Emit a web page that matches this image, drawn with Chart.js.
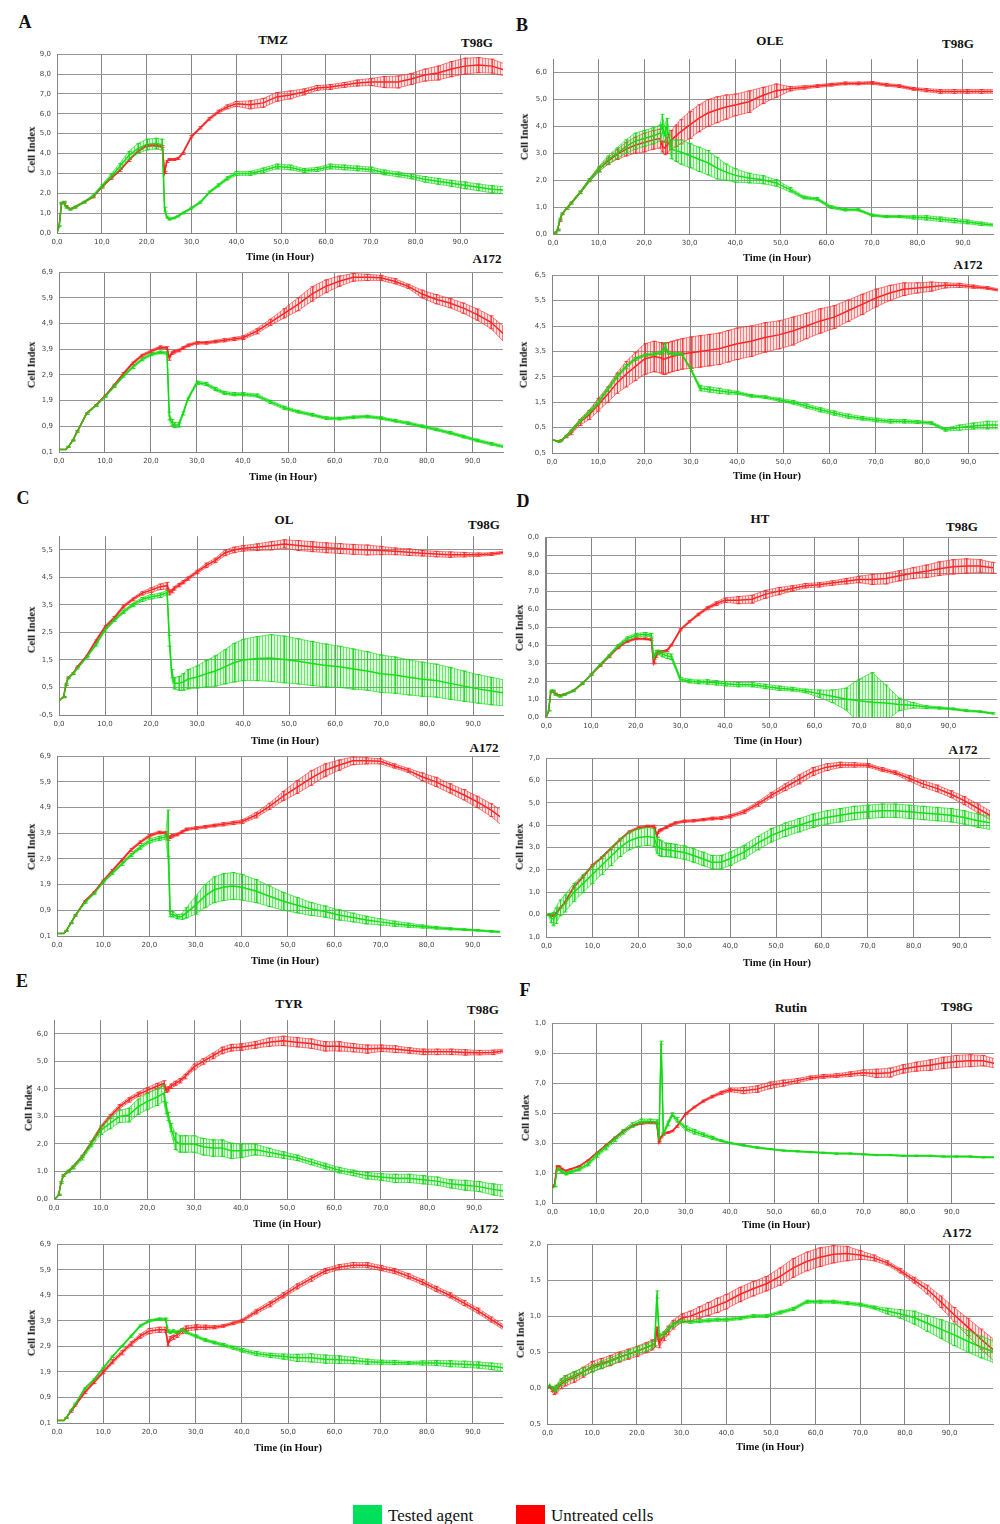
<!DOCTYPE html>
<html><head><meta charset="utf-8">
<script src="https://cdn.jsdelivr.net/npm/chart.js@4.4.0/dist/chart.umd.min.js"></script>
<style>
body{margin:0;background:#fff;width:1000px;height:1524px;position:relative;overflow:hidden;font-family:"Liberation Serif","Times New Roman",serif}
.t{position:absolute;transform:translate(-50%,-50%);white-space:nowrap;font-weight:bold;color:#111;line-height:1}
.r{transform:translate(-50%,-50%) rotate(-90deg)}
canvas{position:absolute}
.lg{position:absolute;font-size:17px;color:#111;line-height:1}
.box{position:absolute;width:29px;height:19px}
</style></head><body>
<script>
// ---------- DATA ----------
const hours = [0,0.5,1,1.5,2, 3,4,6,8,10, 12,14,16,18,20, 22,23.5,24,24.5,25, 26,27,28,30,32, 34,36,38,40,43, 46,49,52,55,58, 61,64,67,70,73, 76,79,82,85,88, 91,94,97,100];
const xTickValues = [0,10,20,30,40,50,60,70,80,90];
const xTickLabels = ['0,0','10,0','20,0','30,0','40,0','50,0','60,0','70,0','80,0','90,0'];

const yTicksTMZ_T98G = ['0,0','1,0','2,0','3,0','4,0','5,0','6,0','7,0','8,0','9,0'];
const yTicksTMZ_A172 = ['0,1','0,9','1,9','2,9','3,9','4,9','5,9','6,9'];
const yTicksOLE_T98G = ['0,0','1,0','2,0','3,0','4,0','5,0','6,0'];
const yTicksOLE_A172 = ['0,5','0,5','1,5','2,5','3,5','4,5','5,5','6,5'];
const yTicksOL_T98G = ['-0,5','0,5','1,5','2,5','3,5','4,5','5,5'];
const yTicksOL_A172 = ['0,1','0,9','1,9','2,9','3,9','4,9','5,9','6,9'];
const yTicksHT_T98G = ['0,0','1,0','2,0','3,0','4,0','5,0','6,0','7,0','8,0','9,0','0,0'];
const yTicksHT_A172 = ['1,0','0,0','1,0','2,0','3,0','4,0','5,0','6,0','7,0'];
const yTicksTYR_T98G = ['0,0','1,0','2,0','3,0','4,0','5,0','6,0'];
const yTicksTYR_A172 = ['0,1','0,9','1,9','2,9','3,9','4,9','5,9','6,9'];
const yTicksRutin_T98G = ['1,0','1,0','3,0','5,0','7,0','9,0','1,0'];
const yTicksRutin_A172 = ['0,5','0,0','0,5','1,0','1,5','2,0'];

// A: TMZ
const tmzT98G_tested = [0,0.35,1.5,1.55,1.3, 1.2,1.3,1.55,1.85,2.35, 2.85,3.35,3.9,4.25,4.45, 4.5,4.45,1.2,0.8,0.7, 0.75,0.85,1.0,1.25,1.55, 2.05,2.4,2.75,3.0,3.0, 3.15,3.35,3.3,3.15,3.2, 3.35,3.3,3.25,3.2,3.05, 2.95,2.85,2.7,2.6,2.5, 2.4,2.3,2.2,2.15];
const tmzT98G_testedErr = [0,0.02,0.05,0.05,0.05, 0.05,0.05,0.05,0.06,0.08, 0.1,0.15,0.2,0.25,0.27, 0.27,0.27,0.1,0.05,0.05, 0.04,0.04,0.04,0.05,0.05, 0.06,0.07,0.08,0.1,0.1, 0.12,0.12,0.12,0.1,0.1, 0.12,0.12,0.12,0.12,0.12, 0.12,0.12,0.14,0.15,0.15, 0.17,0.17,0.18,0.18];
const tmzT98G_untreated = [0,0.4,1.5,1.55,1.35, 1.2,1.3,1.55,1.8,2.3, 2.75,3.15,3.65,4.1,4.4, 4.4,4.35,3.05,3.6,3.7, 3.7,3.75,4.0,4.85,5.3, 5.75,6.1,6.35,6.5,6.45, 6.55,6.85,6.95,7.1,7.3, 7.35,7.45,7.55,7.6,7.6, 7.6,7.75,7.95,8.05,8.25, 8.4,8.45,8.4,8.2];
const tmzT98G_untreatedErr = [0,0,0.03,0.03,0.03, 0.03,0.03,0.03,0.03,0.04, 0.05,0.05,0.05,0.05,0.05, 0.05,0.05,0.05,0.05,0.05, 0.05,0.05,0.05,0.06,0.06, 0.07,0.08,0.1,0.12,0.2, 0.22,0.22,0.2,0.15,0.12, 0.12,0.12,0.15,0.18,0.28, 0.3,0.28,0.3,0.35,0.38, 0.4,0.38,0.35,0.3];
const tmzA172_tested = [0,0,0,0,0.1, 0.35,0.7,1.4,1.7,2.05, 2.45,2.85,3.2,3.5,3.7, 3.78,3.75,1.3,1.05,0.95, 0.95,1.4,1.95,2.6,2.55, 2.35,2.2,2.15,2.15,2.1, 1.85,1.62,1.47,1.35,1.22, 1.2,1.25,1.28,1.22,1.12, 1.02,0.9,0.78,0.65,0.5, 0.35,0.22,0.1,0.05];
const tmzA172_testedErr = [0,0,0,0,0.02, 0.02,0.03,0.03,0.03,0.03, 0.04,0.04,0.05,0.05,0.05, 0.05,0.05,0.15,0.12,0.1, 0.08,0.06,0.05,0.06,0.06, 0.06,0.06,0.06,0.06,0.06, 0.06,0.06,0.05,0.05,0.05, 0.05,0.05,0.05,0.05,0.05, 0.05,0.05,0.05,0.05,0.05, 0.05,0.05,0.05,0.05];
const tmzA172_untreated = [0,0,0,0,0.1, 0.35,0.7,1.4,1.72,2.08, 2.5,2.95,3.35,3.65,3.82, 3.98,3.95,3.55,3.75,3.8, 3.85,3.95,4.05,4.15,4.15, 4.2,4.25,4.3,4.35,4.6, 4.95,5.3,5.65,6.05,6.35, 6.55,6.7,6.7,6.68,6.55, 6.35,6.05,5.85,5.7,5.5, 5.25,4.95,4.45,4.2];
const tmzA172_untreatedErr = [0,0,0,0,0.02, 0.02,0.03,0.03,0.03,0.03, 0.04,0.04,0.05,0.05,0.05, 0.05,0.05,0.08,0.05,0.05, 0.05,0.05,0.05,0.05,0.05, 0.05,0.06,0.06,0.07,0.1, 0.12,0.18,0.25,0.28,0.25, 0.2,0.15,0.12,0.1,0.1, 0.08,0.15,0.18,0.18,0.2, 0.22,0.25,0.3,0.3];

// B: OLE
const oleT98G_tested = [0,0.05,0.15,0.55,0.75, 0.95,1.15,1.55,2.0,2.4, 2.75,3.0,3.25,3.45,3.55, 3.65,3.75,4.1,3.7,4.0, 3.15,3.1,3.05,2.92,2.78, 2.65,2.45,2.3,2.18,2.08, 2.02,1.9,1.65,1.36,1.3, 1.0,0.9,0.9,0.7,0.65, 0.65,0.62,0.6,0.55,0.5, 0.45,0.38,0.33,0.3];
const oleT98G_testedErr = [0,0.02,0.03,0.03,0.03, 0.03,0.04,0.05,0.06,0.1, 0.15,0.2,0.25,0.3,0.3, 0.3,0.3,0.35,0.3,0.3, 0.35,0.4,0.45,0.45,0.45, 0.45,0.4,0.3,0.25,0.18, 0.15,0.12,0.08,0.05,0.05, 0.05,0.04,0.04,0.04,0.04, 0.04,0.06,0.08,0.08,0.08, 0.07,0.06,0.05,0.05];
const oleT98G_untreated = [0,0.05,0.15,0.5,0.75, 0.95,1.15,1.55,2.0,2.4, 2.7,2.95,3.15,3.3,3.4, 3.5,3.55,3.25,3.2,3.3, 3.5,3.65,3.8,4.05,4.3, 4.5,4.62,4.72,4.8,4.92, 5.15,5.33,5.4,5.45,5.5, 5.55,5.6,5.6,5.62,5.55, 5.5,5.4,5.35,5.3,5.3, 5.3,5.3,5.3,5.3];
const oleT98G_untreatedErr = [0,0.02,0.03,0.03,0.03, 0.03,0.03,0.04,0.05,0.08, 0.12,0.18,0.25,0.3,0.35, 0.35,0.35,0.2,0.25,0.3, 0.35,0.4,0.45,0.5,0.5, 0.5,0.48,0.45,0.4,0.4, 0.3,0.25,0.08,0.06,0.05, 0.05,0.05,0.05,0.05,0.05, 0.05,0.05,0.06,0.07,0.07, 0.07,0.07,0.07,0.07];
const oleA172_tested = [0,0,-0.03,-0.05,0, 0.15,0.35,0.75,1.1,1.5, 2.0,2.5,2.9,3.2,3.35, 3.4,3.45,3.5,3.7,3.45, 3.4,3.4,3.4,2.8,2.05, 2.0,1.95,1.9,1.87,1.75, 1.7,1.6,1.5,1.35,1.2, 1.07,0.95,0.87,0.8,0.75, 0.75,0.72,0.68,0.42,0.5, 0.56,0.6,0.6,0.6];
const oleA172_testedErr = [0,0,0.02,0.02,0.02, 0.03,0.05,0.06,0.07,0.08, 0.08,0.08,0.08,0.06,0.05, 0.05,0.06,0.1,0.15,0.06, 0.05,0.05,0.05,0.05,0.1, 0.1,0.1,0.08,0.06,0.05, 0.05,0.06,0.07,0.08,0.08, 0.08,0.08,0.07,0.07,0.07, 0.07,0.06,0.05,0.06,0.1, 0.12,0.15,0.15,0.15];
const oleA172_untreated = [0,0,-0.03,-0.05,0, 0.15,0.3,0.7,1.0,1.4, 1.8,2.25,2.6,2.9,3.2, 3.3,3.25,3.2,3.2,3.25, 3.3,3.35,3.4,3.45,3.5, 3.55,3.6,3.7,3.8,3.9, 4.05,4.15,4.3,4.5,4.7, 4.85,5.1,5.35,5.6,5.8, 5.95,6.0,6.05,6.1,6.1, 6.05,6.0,5.9,5.85];
const oleA172_untreatedErr = [0,0,0.02,0.02,0.03, 0.05,0.08,0.12,0.18,0.25, 0.3,0.4,0.5,0.55,0.6, 0.6,0.6,0.6,0.6,0.6, 0.6,0.6,0.6,0.62,0.62, 0.62,0.62,0.62,0.62,0.6, 0.58,0.55,0.55,0.5,0.48, 0.45,0.42,0.4,0.35,0.3, 0.25,0.2,0.18,0.1,0.08, 0.06,0.05,0.05,0.05];

// C: OL
const olT98G_tested = [0,0.1,0.15,0.6,0.85, 1.0,1.2,1.6,2.05,2.6, 2.95,3.25,3.5,3.7,3.8, 3.85,3.95,2.2,1.0,0.65, 0.65,0.7,0.8,0.88,1.0, 1.1,1.25,1.4,1.5,1.55, 1.57,1.52,1.45,1.37,1.3, 1.25,1.17,1.1,1.0,0.95, 0.87,0.8,0.75,0.65,0.55, 0.45,0.37,0.3,0.25];
const olT98G_testedErr = [0,0,0.02,0.03,0.03, 0.03,0.03,0.03,0.04,0.05, 0.05,0.06,0.06,0.07,0.08, 0.08,0.08,0.2,0.15,0.2, 0.25,0.3,0.35,0.4,0.48, 0.55,0.62,0.7,0.75,0.8, 0.85,0.85,0.82,0.8,0.78, 0.75,0.73,0.7,0.68,0.66, 0.64,0.62,0.6,0.58,0.55, 0.52,0.5,0.47,0.45];
const olT98G_untreated = [0,0.1,0.15,0.6,0.85, 1.0,1.25,1.65,2.19,2.7, 3.03,3.44,3.7,3.92,4.04, 4.16,4.2,3.95,4.0,4.1, 4.22,4.33,4.46,4.7,4.94, 5.12,5.39,5.5,5.56,5.6, 5.65,5.72,5.66,5.62,5.58, 5.55,5.52,5.5,5.48,5.45, 5.42,5.38,5.35,5.33,5.33, 5.33,5.35,5.42,5.42];
const olT98G_untreatedErr = [0,0,0.02,0.03,0.03, 0.03,0.03,0.03,0.04,0.05, 0.05,0.05,0.05,0.06,0.08, 0.1,0.12,0.08,0.06,0.06, 0.06,0.06,0.06,0.06,0.08, 0.08,0.1,0.1,0.1,0.12, 0.15,0.15,0.18,0.18,0.18, 0.18,0.18,0.18,0.15,0.12, 0.12,0.1,0.1,0.1,0.08, 0.06,0.05,0.05,0.05];
const olA172_tested = [0,0,0,0,0.1, 0.4,0.7,1.2,1.55,2.0, 2.35,2.7,3.05,3.35,3.6, 3.7,3.75,3.9,0.75,0.75, 0.65,0.65,0.8,1.1,1.45, 1.7,1.8,1.85,1.8,1.65, 1.45,1.25,1.1,0.95,0.85, 0.72,0.62,0.52,0.45,0.38, 0.32,0.27,0.22,0.18,0.15, 0.12,0.08,0.05,0.05];
const olA172_testedErr = [0,0,0,0,0.02, 0.02,0.03,0.03,0.03,0.04, 0.05,0.05,0.06,0.07,0.08, 0.08,0.08,0.9,0.1,0.1, 0.08,0.1,0.2,0.35,0.45, 0.5,0.52,0.52,0.5,0.45, 0.4,0.35,0.3,0.25,0.22, 0.2,0.17,0.15,0.12,0.1, 0.08,0.06,0.05,0.04,0.03, 0.03,0.03,0.03,0.03];
const olA172_untreated = [0,0,0,0,0.1, 0.4,0.7,1.25,1.6,2.05, 2.45,2.85,3.25,3.55,3.8, 3.93,3.92,3.7,3.75,3.8, 3.85,3.95,4.05,4.1,4.15, 4.2,4.25,4.3,4.35,4.6, 4.95,5.35,5.7,6.05,6.35, 6.55,6.72,6.72,6.7,6.52, 6.35,6.1,5.9,5.65,5.4, 5.12,4.8,4.4,4.2];
const olA172_untreatedErr = [0,0,0,0,0.02, 0.02,0.03,0.03,0.03,0.03, 0.04,0.04,0.05,0.05,0.05, 0.05,0.05,0.08,0.05,0.05, 0.05,0.05,0.05,0.05,0.05, 0.05,0.06,0.06,0.07,0.1, 0.12,0.18,0.25,0.28,0.25, 0.2,0.15,0.12,0.1,0.08, 0.08,0.15,0.18,0.18,0.2, 0.22,0.25,0.3,0.3];

// D: HT
const htT98G_tested = [0,0.35,1.45,1.45,1.25, 1.15,1.25,1.45,1.85,2.35, 2.9,3.4,3.95,4.35,4.55, 4.6,4.55,3.3,3.6,3.6, 3.5,3.4,3.35,2.1,2.0, 1.95,1.95,1.9,1.85,1.8, 1.8,1.7,1.6,1.55,1.45, 1.3,1.15,1.0,0.9,0.82, 0.78,0.7,0.65,0.55,0.5, 0.45,0.35,0.3,0.2];
const htT98G_testedErr = [0,0.02,0.05,0.05,0.05, 0.05,0.05,0.05,0.05,0.05, 0.06,0.07,0.08,0.1,0.1, 0.1,0.1,0.1,0.1,0.12, 0.15,0.15,0.15,0.1,0.1, 0.1,0.12,0.12,0.12,0.12, 0.12,0.12,0.12,0.1,0.1, 0.2,0.35,0.6,1.2,1.65, 1.0,0.35,0.15,0.08,0.06, 0.05,0.05,0.04,0.04];
const htT98G_untreated = [0,0.3,1.4,1.45,1.3, 1.2,1.25,1.45,1.85,2.35, 2.85,3.35,3.85,4.2,4.35, 4.35,4.3,3.0,3.35,3.6, 3.65,3.7,4.0,4.85,5.3, 5.7,6.05,6.3,6.5,6.5, 6.55,6.82,7.0,7.15,7.3, 7.35,7.45,7.55,7.65,7.65, 7.7,7.85,8.0,8.1,8.25, 8.35,8.4,8.4,8.3];
const htT98G_untreatedErr = [0,0,0.03,0.03,0.03, 0.03,0.03,0.03,0.03,0.04, 0.05,0.05,0.05,0.05,0.05, 0.05,0.05,0.05,0.05,0.05, 0.05,0.05,0.05,0.06,0.06, 0.07,0.08,0.1,0.12,0.2, 0.22,0.22,0.2,0.15,0.12, 0.12,0.12,0.15,0.18,0.28, 0.3,0.28,0.3,0.35,0.38, 0.4,0.4,0.35,0.3];
const htA172_tested = [0,0,-0.15,-0.2,-0.05, 0.3,0.5,1.0,1.4,1.8, 2.2,2.6,3.0,3.3,3.45, 3.5,3.45,3.1,3.0,2.95, 2.9,2.88,2.85,2.78,2.65, 2.5,2.35,2.35,2.5,2.8, 3.2,3.55,3.8,4.0,4.2, 4.35,4.45,4.55,4.6,4.65, 4.65,4.6,4.55,4.5,4.45, 4.35,4.2,4.1,4.0];
const htA172_testedErr = [0,0.05,0.2,0.3,0.35, 0.35,0.38,0.4,0.4,0.4, 0.4,0.4,0.4,0.4,0.4, 0.4,0.4,0.35,0.35,0.35, 0.3,0.3,0.3,0.3,0.3, 0.3,0.3,0.3,0.3,0.3, 0.3,0.3,0.3,0.3,0.3, 0.3,0.3,0.3,0.3,0.3, 0.3,0.3,0.3,0.3,0.3, 0.3,0.3,0.3,0.3];
const htA172_untreated = [0,0,-0.05,-0.05,0.05, 0.3,0.55,1.25,1.7,2.2, 2.55,2.95,3.35,3.7,3.88, 3.95,3.95,3.55,3.75,3.8, 3.9,4.0,4.1,4.18,4.2, 4.25,4.3,4.32,4.4,4.6, 4.95,5.35,5.7,6.05,6.4, 6.6,6.7,6.7,6.68,6.5, 6.35,6.1,5.85,5.65,5.4, 5.1,4.75,4.4,4.2];
const htA172_untreatedErr = [0,0,0.02,0.02,0.03, 0.03,0.04,0.05,0.05,0.05, 0.05,0.05,0.05,0.05,0.05, 0.05,0.05,0.08,0.05,0.05, 0.05,0.05,0.05,0.05,0.05, 0.05,0.06,0.06,0.07,0.08, 0.1,0.12,0.15,0.2,0.18, 0.15,0.12,0.1,0.08,0.08, 0.08,0.12,0.15,0.15,0.15, 0.18,0.2,0.2,0.2];

// E: TYR
const tyrT98G_tested = [0,0.05,0.15,0.6,0.85, 1.0,1.15,1.5,2.0,2.5, 2.75,3.0,3.05,3.35,3.55, 3.7,3.85,3.3,3.0,2.6, 2.1,2.0,2.0,2.0,1.9, 1.85,1.85,1.75,1.75,1.8, 1.7,1.6,1.5,1.35,1.2, 1.05,0.95,0.85,0.8,0.75, 0.75,0.7,0.65,0.55,0.5, 0.45,0.35,0.28,0.25];
const tyrT98G_testedErr = [0,0,0.02,0.03,0.03, 0.05,0.06,0.08,0.1,0.15, 0.2,0.22,0.25,0.28,0.3, 0.3,0.3,0.2,0.15,0.15, 0.3,0.3,0.3,0.3,0.3, 0.3,0.3,0.28,0.25,0.2, 0.15,0.12,0.1,0.1,0.1, 0.1,0.1,0.12,0.12,0.15, 0.15,0.15,0.15,0.15,0.18, 0.18,0.2,0.22,0.22];
const tyrT98G_untreated = [0,0.05,0.15,0.6,0.85, 1.0,1.15,1.55,2.05,2.6, 3.0,3.35,3.6,3.8,3.95, 4.1,4.2,3.95,4.0,4.1, 4.2,4.3,4.45,4.8,5.0, 5.2,5.4,5.5,5.52,5.6, 5.7,5.75,5.7,5.65,5.55, 5.55,5.5,5.45,5.48,5.45, 5.4,5.35,5.35,5.35,5.33, 5.32,5.33,5.4,5.4];
const tyrT98G_untreatedErr = [0,0,0.02,0.03,0.03, 0.03,0.03,0.04,0.05,0.06, 0.07,0.08,0.08,0.08,0.1, 0.1,0.1,0.08,0.08,0.08, 0.08,0.08,0.08,0.1,0.1, 0.1,0.12,0.12,0.12,0.12, 0.15,0.17,0.17,0.17,0.17, 0.17,0.15,0.15,0.12,0.12, 0.1,0.1,0.1,0.1,0.1, 0.08,0.08,0.06,0.06];
const tyrA172_tested = [0,0,0,0,0.1, 0.4,0.65,1.25,1.6,2.05, 2.5,2.9,3.3,3.7,3.9, 3.97,3.97,3.5,3.45,3.5, 3.45,3.55,3.45,3.3,3.15, 3.05,2.95,2.85,2.75,2.62, 2.55,2.5,2.45,2.45,2.4, 2.38,2.35,2.3,2.28,2.27, 2.25,2.25,2.25,2.22,2.2, 2.17,2.12,2.05,2.0];
const tyrA172_testedErr = [0,0,0,0,0.02, 0.02,0.03,0.03,0.03,0.03, 0.03,0.03,0.04,0.04,0.04, 0.04,0.04,0.05,0.05,0.05, 0.05,0.05,0.05,0.05,0.05, 0.05,0.06,0.06,0.07,0.08, 0.08,0.1,0.14,0.16,0.16, 0.15,0.13,0.1,0.08,0.08, 0.06,0.08,0.1,0.12,0.12, 0.12,0.13,0.15,0.15];
const tyrA172_untreated = [0,0,0,0,0.1, 0.35,0.6,1.1,1.5,1.9, 2.3,2.65,3.0,3.3,3.5, 3.55,3.55,3.0,3.2,3.25, 3.35,3.5,3.6,3.65,3.65, 3.65,3.7,3.8,3.9,4.25, 4.55,4.9,5.25,5.55,5.85, 6.0,6.08,6.08,5.97,5.85, 5.65,5.42,5.15,4.9,4.6, 4.3,3.95,3.6,3.35];
const tyrA172_untreatedErr = [0,0,0,0,0.02, 0.03,0.04,0.05,0.06,0.07, 0.08,0.08,0.08,0.08,0.1, 0.1,0.1,0.08,0.08,0.08, 0.1,0.1,0.1,0.1,0.08, 0.06,0.05,0.05,0.06,0.08, 0.1,0.1,0.1,0.1,0.1, 0.1,0.1,0.1,0.1,0.1, 0.1,0.1,0.1,0.1,0.1, 0.1,0.1,0.1,0.1];

// F: Rutin
const rutinT98G_tested = [0,0.1,1.2,1.3,1.1, 0.95,1.05,1.25,1.6,2.2, 2.7,3.25,3.75,4.2,4.45, 4.45,4.4,3.3,9.7,3.6, 4.3,4.9,4.55,4.0,3.75, 3.55,3.35,3.15,3.0,2.85, 2.7,2.6,2.5,2.45,2.4, 2.35,2.3,2.3,2.25,2.2, 2.2,2.15,2.15,2.15,2.1, 2.1,2.1,2.05,2.05];
const rutinT98G_testedErr = [0,0.02,0.05,0.08,0.08, 0.08,0.08,0.1,0.12,0.15, 0.15,0.15,0.15,0.15,0.15, 0.15,0.15,0.1,0.1,0.1, 0.15,0.12,0.15,0.15,0.15, 0.12,0.1,0.06,0.05,0.05, 0.05,0.04,0.04,0.04,0.04, 0.04,0.04,0.04,0.04,0.04, 0.04,0.04,0.04,0.04,0.04, 0.04,0.04,0.04,0.04];
const rutinT98G_untreated = [0,0.3,1.45,1.45,1.3, 1.15,1.25,1.45,1.85,2.35, 2.85,3.35,3.8,4.15,4.3, 4.35,4.35,3.05,3.4,3.6, 3.7,3.8,4.1,4.95,5.4, 5.8,6.1,6.35,6.55,6.5, 6.6,6.85,7.0,7.15,7.35, 7.45,7.5,7.6,7.7,7.65, 7.7,7.95,8.1,8.2,8.35, 8.45,8.5,8.5,8.3];
const rutinT98G_untreatedErr = [0,0,0.03,0.03,0.03, 0.03,0.03,0.03,0.03,0.04, 0.05,0.05,0.05,0.05,0.05, 0.05,0.05,0.05,0.05,0.05, 0.05,0.05,0.05,0.06,0.06, 0.07,0.08,0.1,0.12,0.2, 0.22,0.22,0.2,0.15,0.12, 0.12,0.12,0.15,0.18,0.28, 0.3,0.28,0.3,0.35,0.38, 0.4,0.4,0.35,0.3];
const rutinA172_tested = [0,0.05,0.0,-0.02,0.0, 0.08,0.12,0.18,0.23,0.27, 0.32,0.37,0.42,0.47,0.52, 0.56,0.6,0.62,1.3,0.72, 0.75,0.82,0.88,0.93,0.92, 0.93,0.94,0.95,0.95,0.97, 1.0,1.0,1.05,1.1,1.2, 1.2,1.2,1.18,1.16,1.12, 1.07,1.03,0.98,0.9,0.82, 0.74,0.65,0.57,0.5];
const rutinA172_testedErr = [0,0,0.02,0.03,0.04, 0.05,0.05,0.05,0.05,0.05, 0.05,0.05,0.05,0.05,0.05, 0.05,0.05,0.03,0.05,0.03, 0.03,0.03,0.03,0.02,0.02, 0.02,0.02,0.02,0.02,0.02, 0.02,0.02,0.02,0.02,0.02, 0.02,0.02,0.02,0.02,0.02, 0.04,0.06,0.09,0.11,0.13, 0.15,0.15,0.15,0.15];
const rutinA172_untreated = [0,0.02,-0.02,-0.05,-0.02, 0.05,0.1,0.15,0.22,0.3, 0.34,0.38,0.43,0.47,0.51, 0.56,0.6,0.62,0.8,0.62, 0.72,0.8,0.88,0.97,1.0, 1.05,1.1,1.15,1.2,1.3, 1.38,1.45,1.55,1.67,1.76, 1.82,1.86,1.87,1.85,1.81, 1.74,1.63,1.5,1.37,1.2, 1.02,0.85,0.68,0.52];
const rutinA172_untreatedErr = [0,0,0.03,0.04,0.05, 0.06,0.07,0.07,0.07,0.07, 0.07,0.07,0.07,0.07,0.07, 0.07,0.07,0.05,0.05,0.06, 0.06,0.06,0.06,0.06,0.07, 0.08,0.09,0.1,0.1,0.1, 0.1,0.1,0.12,0.13,0.13, 0.13,0.12,0.1,0.06,0.04, 0.03,0.03,0.04,0.06,0.08, 0.1,0.12,0.14,0.15];

// ---------- LAYOUT ----------
const charts = [
 {l:57,t:52,r:503,b:233, xMin:0,xMax:99.5, yMin:0,yStep:1,yMax:9, yLabels:yTicksTMZ_T98G, g:tmzT98G_tested,gE:tmzT98G_testedErr,u:tmzT98G_untreated,uE:tmzT98G_untreatedErr, tx:280,ty:257, cx:32,cy:150},
 {l:59,t:270,r:503,b:452, xMin:0,xMax:96.6, yMin:-0.1,yStep:1,yMax:6.9, yLabels:yTicksTMZ_A172, g:tmzA172_tested,gE:tmzA172_testedErr,u:tmzA172_untreated,uE:tmzA172_untreatedErr, tx:283,ty:477, cx:32,cy:365},
 {l:553,t:57,r:993,b:234, xMin:0,xMax:96.6, yMin:0,yStep:1,yMax:6.5, yLabels:yTicksOLE_T98G, g:oleT98G_tested,gE:oleT98G_testedErr,u:oleT98G_untreated,uE:oleT98G_untreatedErr, tx:777,ty:258, cx:525,cy:137},
 {l:552,t:273,r:998,b:453, xMin:0,xMax:96.4, yMin:-0.5,yStep:1,yMax:6.5, yLabels:yTicksOLE_A172, g:oleA172_tested,gE:oleA172_testedErr,u:oleA172_untreated,uE:oleA172_untreatedErr, tx:767,ty:476, cx:524,cy:365},
 {l:59,t:534,r:503,b:715, xMin:0,xMax:96.5, yMin:-0.5,yStep:1,yMax:6.0, yLabels:yTicksOL_T98G, g:olT98G_tested,gE:olT98G_testedErr,u:olT98G_untreated,uE:olT98G_untreatedErr, tx:285,ty:741, cx:32,cy:630},
 {l:57,t:754,r:500,b:936, xMin:0,xMax:95.9, yMin:-0.1,yStep:1,yMax:6.9, yLabels:yTicksOL_A172, g:olA172_tested,gE:olA172_testedErr,u:olA172_untreated,uE:olA172_untreatedErr, tx:285,ty:961, cx:32,cy:847},
 {l:545,t:535,r:997,b:717, xMin:-0.3,xMax:100.9, yMin:0,yStep:1,yMax:10, yLabels:yTicksHT_T98G, g:htT98G_tested,gE:htT98G_testedErr,u:htT98G_untreated,uE:htT98G_untreatedErr, tx:768,ty:741, cx:520,cy:628},
 {l:546,t:756,r:990,b:937, xMin:-0.1,xMax:96.6, yMin:-1,yStep:1,yMax:7, yLabels:yTicksHT_A172, g:htA172_tested,gE:htA172_testedErr,u:htA172_untreated,uE:htA172_untreatedErr, tx:777,ty:963, cx:520,cy:847},
 {l:54,t:1018,r:503,b:1199, xMin:0,xMax:96.2, yMin:0,yStep:1,yMax:6.5, yLabels:yTicksTYR_T98G, g:tyrT98G_tested,gE:tyrT98G_testedErr,u:tyrT98G_untreated,uE:tyrT98G_untreatedErr, tx:287,ty:1224, cx:29,cy:1108},
 {l:57,t:1242,r:503,b:1423, xMin:0,xMax:96.5, yMin:-0.1,yStep:1,yMax:6.9, yLabels:yTicksTYR_A172, g:tyrA172_tested,gE:tyrA172_testedErr,u:tyrA172_untreated,uE:tyrA172_untreatedErr, tx:288,ty:1448, cx:32,cy:1333},
 {l:552,t:1021,r:994,b:1203, xMin:-0.1,xMax:99.5, yMin:-1,yStep:2,yMax:11, yLabels:yTicksRutin_T98G, g:rutinT98G_tested,gE:rutinT98G_testedErr,u:rutinT98G_untreated,uE:rutinT98G_untreatedErr, tx:776,ty:1225, cx:526,cy:1118},
 {l:547,t:1242,r:993,b:1424, xMin:-0.1,xMax:99.7, yMin:-0.5,yStep:0.5,yMax:2.0, yLabels:yTicksRutin_A172, g:rutinA172_tested,gE:rutinA172_testedErr,u:rutinA172_untreated,uE:rutinA172_untreatedErr, tx:770,ty:1447, cx:521,cy:1335}
];

const texts = [
 ['A',25,22,18],['B',522,25,18],['C',23,498,18],['D',523,501,18],['E',22,981,18],['F',525,990,18],
 ['TMZ',273,39,13],['OLE',770,40,13],['OL',284,519,13],['HT',760,518,13],['TYR',289,1003,13],['Rutin',791,1007,13],
 ['T98G',477,42,13],['T98G',958,43,13],['T98G',484,524,13],['T98G',962,526,13],['T98G',483,1009,13],['T98G',957,1006,13],
 ['A172',487,258,13],['A172',968,264,13],['A172',484,747,13],['A172',963,749,13],['A172',484,1228,13],['A172',957,1232,13]
];

function addText(s, x, y, size, cls) {
  const d = document.createElement('div');
  d.className = 't' + (cls ? ' ' + cls : '');
  d.textContent = s;
  d.style.left = x + 'px'; d.style.top = y + 'px'; d.style.fontSize = size + 'px';
  document.body.appendChild(d);
}
texts.forEach(t => addText(t[0], t[1], t[2], t[3]));

// striped fill imitating the dense SD whiskers of the original
function stripePattern(rgb) {
  const c = document.createElement('canvas'); c.width = 3; c.height = 1;
  const x = c.getContext('2d');
  x.fillStyle = 'rgba(' + rgb + ',0.16)'; x.fillRect(0, 0, 3, 1);
  x.fillStyle = 'rgba(' + rgb + ',0.6)'; x.fillRect(0, 0, 1, 1);
  return x.createPattern(c, 'repeat');
}

const GREEN = '#11e011', RED = '#ff1a1a';
const GREEN_ERR = 'rgba(20,215,20,0.9)', RED_ERR = 'rgba(245,40,40,0.85)';
const GREEN_BAND = stripePattern('30,220,30'), RED_BAND = stripePattern('250,60,60');

const errorBars = {
  id: 'errorBars',
  beforeDatasetDraw(chart, args) {
    const ds = chart.data.datasets[args.index];
    if (!ds.errors) return;
    const {ctx, chartArea: a, scales: {x, y}} = chart;
    ctx.save();
    ctx.beginPath(); ctx.rect(a.left, a.top, a.right - a.left, a.bottom - a.top); ctx.clip();
    ctx.strokeStyle = ds.errColor; ctx.lineWidth = 1;
    ctx.beginPath();
    ds.data.forEach((p, i) => {
      const e = ds.errors[i];
      if (!e) return;
      const px = Math.round(x.getPixelForValue(p.x)) + 0.5;
      const y1 = y.getPixelForValue(p.y + e), y2 = y.getPixelForValue(p.y - e);
      ctx.moveTo(px, y1); ctx.lineTo(px, y2);
      ctx.moveTo(px - 2, y1); ctx.lineTo(px + 2, y1);
      ctx.moveTo(px - 2, y2); ctx.lineTo(px + 2, y2);
    });
    ctx.stroke();
    ctx.restore();
  }
};

Chart.defaults.font.family = '"DejaVu Sans", Verdana, sans-serif';

const YW = 40, XH = 20, PT = 8, PR = 2;
charts.forEach(c => {
  const cv = document.createElement('canvas');
  const w = c.r - c.l + YW + PR, h = c.b - c.t + PT + XH;
  cv.width = w; cv.height = h;
  cv.style.left = (c.l - YW) + 'px'; cv.style.top = (c.t - PT) + 'px';
  cv.style.width = w + 'px'; cv.style.height = h + 'px';
  document.body.appendChild(cv);

  const pts = (vals) => hours.map((hr, i) => ({x: hr, y: vals[i]}));
  const shift = (vals, errs, sgn) => hours.map((hr, i) => ({x: hr, y: vals[i] + sgn * errs[i]}));
  const band = (label, data, fill, color, edge) => ({label, data, fill, backgroundColor: color, borderColor: edge, borderWidth: 0.7, pointRadius: 0, tension: 0});

  new Chart(cv, {
    type: 'line',
    data: {
      datasets: [
        band('Tested agent −SD', shift(c.g, c.gE, -1), false, GREEN_BAND, GREEN_ERR),
        band('Tested agent +SD', shift(c.g, c.gE, 1), '-1', GREEN_BAND, GREEN_ERR),
        band('Untreated cells −SD', shift(c.u, c.uE, -1), false, RED_BAND, RED_ERR),
        band('Untreated cells +SD', shift(c.u, c.uE, 1), '-1', RED_BAND, RED_ERR),
        {label: 'Tested agent', data: pts(c.g), errors: c.gE, errColor: GREEN_ERR, borderColor: GREEN, borderWidth: 1.5, pointRadius: 0, fill: false, tension: 0},
        {label: 'Untreated cells', data: pts(c.u), errors: c.uE, errColor: RED_ERR, borderColor: RED, borderWidth: 1.5, pointRadius: 0, fill: false, tension: 0}
      ]
    },
    options: {
      responsive: false, animation: false, events: [],
      layout: {padding: {top: PT, right: PR, left: 0, bottom: 0}},
      plugins: {legend: {display: false}, tooltip: {enabled: false}, title: {display: false}},
      scales: {
        x: {
          type: 'linear', min: c.xMin, max: c.xMax,
          afterBuildTicks: s => { s.ticks = xTickValues.map(v => ({value: v})); },
          afterFit: s => { s.height = XH; },
          ticks: {callback: (v, i) => xTickLabels[i], autoSkip: false, maxRotation: 0, padding: 5, color: '#444', font: {size: 7}},
          grid: {color: '#858585', lineWidth: 1, drawTicks: false},
          border: {display: true, color: '#858585'}
        },
        y: {
          type: 'linear', min: c.yMin, max: c.yMax,
          afterBuildTicks: s => { s.ticks = c.yLabels.map((_, i) => ({value: +(c.yMin + i * c.yStep).toFixed(3)})); },
          afterFit: s => { s.width = YW; },
          ticks: {callback: (v, i) => c.yLabels[i], autoSkip: false, padding: 6, color: '#444', font: {size: 7}},
          grid: {color: '#959595', lineWidth: 1, drawTicks: false},
          border: {display: true, color: '#858585'}
        }
      }
    },
    plugins: [errorBars]
  });

  addText('Time (in Hour)', c.tx, c.ty, 10.5);
  addText('Cell Index', c.cx, c.cy, 10.5, 'r');
});

// legend
function legendItem(x, color, text) {
  const b = document.createElement('div'); b.className = 'box';
  b.style.left = x + 'px'; b.style.top = '1505px'; b.style.background = color;
  document.body.appendChild(b);
  const t = document.createElement('div'); t.className = 'lg'; t.textContent = text;
  t.style.left = (x + 35) + 'px'; t.style.top = '1507px';
  document.body.appendChild(t);
}
legendItem(353, '#00e05a', 'Tested agent');
legendItem(516, '#ff0000', 'Untreated cells');
</script>
</body></html>
